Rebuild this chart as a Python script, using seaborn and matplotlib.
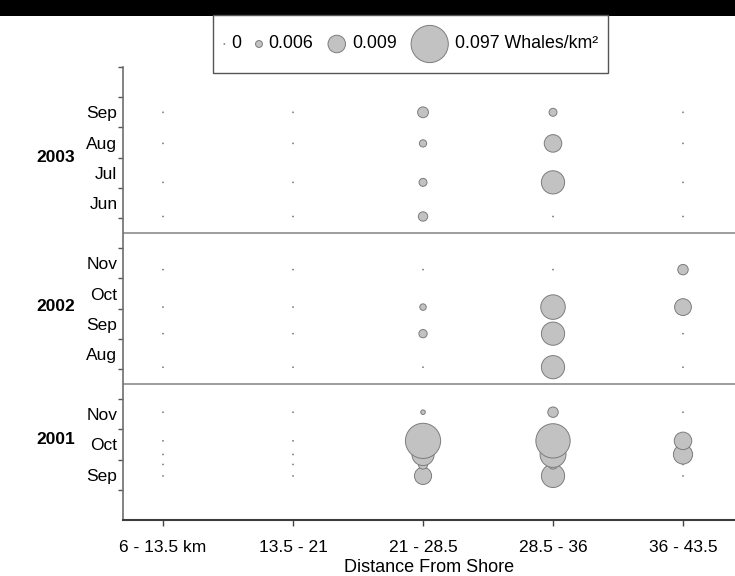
import matplotlib
matplotlib.use("Agg")
import matplotlib.pyplot as plt
import matplotlib.transforms as mtransforms
from matplotlib.patches import Rectangle, Circle
from matplotlib.offsetbox import AnchoredOffsetbox, DrawingArea, HPacker, TextArea
import numpy as np
import pandas as pd
import seaborn as sns

# ---- data ----
distance_bins = ["6 - 13.5 km", "13.5 - 21", "21 - 28.5", "28.5 - 36", "36 - 43.5"]

# survey position on the month axis (1 unit = 1 month, Sep 2001 starts at 1)
survey_year = [2001, 2001, 2001, 2001, 2001,
               2002, 2002, 2002, 2002,
               2003, 2003, 2003, 2003]
survey_time = [1.46, 1.84, 2.17, 2.62, 3.57,
               5.06, 6.17, 7.05, 8.29,
               10.05, 11.18, 12.47, 13.5]

# whales / km2 per survey (rows) and distance bin (columns)
density = [
    [0, 0, 0.0089, 0.0345, 0],
    [0, 0, 0.0067, 0.0067, 0],
    [0, 0, 0.030, 0.0465, 0.0166],
    [0, 0, 0.088, 0.084, 0.009],
    [0, 0, 0.0037, 0.0070, 0],
    [0, 0, 0, 0.0345, 0],
    [0, 0, 0.0064, 0.0345, 0],
    [0, 0, 0.0056, 0.0403, 0.0088],
    [0, 0, 0, 0, 0.0070],
    [0, 0, 0.0067, 0, 0],
    [0, 0, 0.0063, 0.0345, 0],
    [0, 0, 0.0061, 0.0092, 0],
    [0, 0, 0.0071, 0.0063, 0],
]

month_labels = ["Sep", "Oct", "Nov", "Aug", "Sep", "Oct", "Nov", "Jun", "Jul", "Aug", "Sep"]
month_pos = [1.5, 2.5, 3.5, 5.5, 6.5, 7.5, 8.5, 10.5, 11.5, 12.5, 13.5]
year_labels = ["2001", "2002", "2003"]
year_pos = [2.65, 7.07, 12.0]
year_breaks = [4.5, 9.5]

legend_values = [0, 0.006, 0.009, 0.097]
legend_labels = ["0", "0.006", "0.009", "0.097 Whales/km\u00b2"]

# ---- size scale (piecewise through the legend keys) ----
key_diam_px = [1.6, 7.7, 18.3, 38.0]


def marker_area(v):
    d = np.interp(v, legend_values, key_diam_px) - 0.8
    return (d * 0.72) ** 2


rows = []
for t, yr, dens in zip(survey_time, survey_year, density):
    for i, v in enumerate(dens):
        rows.append({"distance": i, "time": t, "year": yr, "density": v})
df = pd.DataFrame(rows)

sns.set_theme(style="ticks")
plt.rcParams["font.family"] = ["Liberation Sans", "DejaVu Sans"]
plt.rcParams["text.color"] = "black"
plt.rcParams["xtick.labelcolor"] = "black"
plt.rcParams["ytick.labelcolor"] = "black"
plt.rcParams["axes.labelcolor"] = "black"

fill = "#c2c2c2"
edge = "#7c7c7c"
fs = 12.5

fig = plt.figure(figsize=(7.35, 5.76), dpi=100)
ax = fig.add_axes([123 / 735, 56 / 576, 612 / 735, 453 / 576])

sizes = {v: marker_area(v) for v in df["density"].unique()}
sns.scatterplot(data=df, x="distance", y="time", size="density", sizes=sizes,
                color=fill, edgecolor=edge, linewidth=0.7, legend=False, ax=ax)

for b in year_breaks:
    ax.axhline(b, color="#8c8c8c", lw=1.2, zorder=0)

ax.set_xlim(-0.308, 4.4)
ax.set_ylim(0, 15)
ax.set_xticks(range(len(distance_bins)), distance_bins)
ax.set_yticks(range(1, 16), [])
ax.set_yticks(month_pos, month_labels, minor=True)
ax.tick_params(axis="y", which="major", length=3.6, width=1, color="#555555")
ax.tick_params(axis="y", which="minor", length=0, pad=4, labelsize=fs)
ax.tick_params(axis="x", length=4.5, width=1, color="#444444", pad=10, labelsize=fs)
ax.set_xlabel("Distance From Shore", fontsize=13, labelpad=3)
ax.set_ylabel("")

ax.spines["top"].set_visible(False)
ax.spines["right"].set_visible(False)
ax.spines["left"].set_color("#6e6e6e")
ax.spines["left"].set_linewidth(1.2)
ax.spines["bottom"].set_color("#3c3c3c")
ax.spines["bottom"].set_linewidth(1.5)

blend = mtransforms.blended_transform_factory(fig.transFigure, ax.transData)
for lab, y in zip(year_labels, year_pos):
    ax.text(75 / 735, y, lab, transform=blend, ha="right", va="center",
            fontsize=12.5, fontweight="bold")

# scanned black band at the top
fig.add_artist(Rectangle((0, 1 - 16 / 576), 1, 16 / 576, transform=fig.transFigure,
                         facecolor="black", edgecolor="none", zorder=0))

# legend with keys from the same size scale
items = []
for v, lab in zip(legend_values, legend_labels):
    r = np.sqrt(marker_area(v)) / 2
    da = DrawingArea(2 * r + 1, 2 * r + 1, 0, 0)
    da.add_artist(Circle((r + 0.5, r + 0.5), r, facecolor=fill, edgecolor=edge, lw=0.7))
    items.append(HPacker(children=[da, TextArea(lab, textprops=dict(fontsize=12.8))],
                         sep=4, align="center"))
box = HPacker(children=items, sep=10, align="center")
leg = AnchoredOffsetbox(loc="center", child=box, pad=0.65, borderpad=0, frameon=True,
                        bbox_to_anchor=(410.5 / 735, 1 - 44 / 576),
                        bbox_transform=fig.transFigure)
leg.patch.set_edgecolor("#555555")
leg.patch.set_linewidth(1.0)
fig.add_artist(leg)

fig.savefig("out.png", dpi=100)
